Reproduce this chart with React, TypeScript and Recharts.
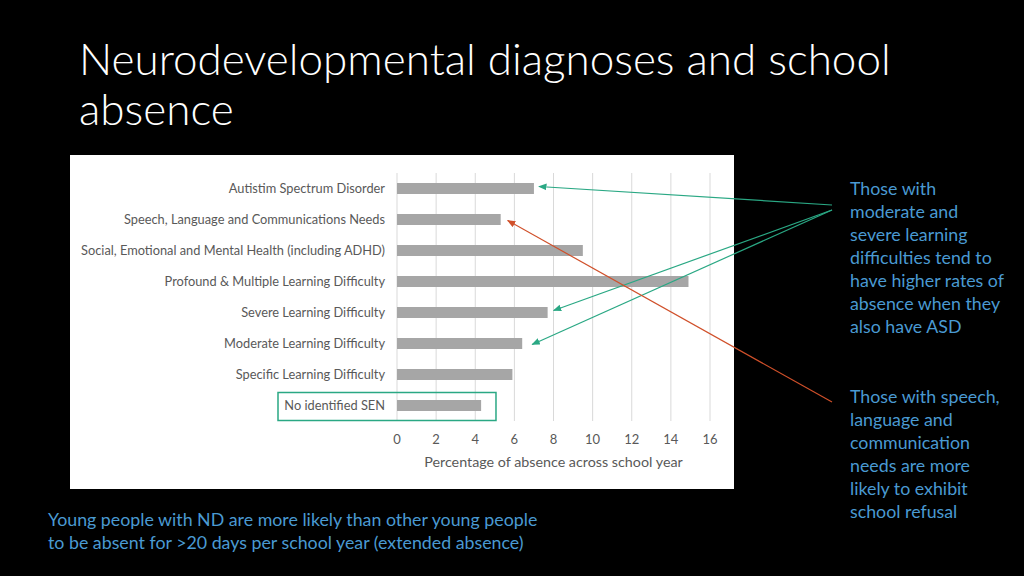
import React from 'react';
import { BarChart, Bar, XAxis, YAxis, CartesianGrid } from 'recharts';

const categories = [
  'Autistim Spectrum Disorder',
  'Speech, Language and Communications Needs',
  'Social, Emotional and Mental Health (including ADHD)',
  'Profound & Multiple Learning Difficulty',
  'Severe Learning Difficulty',
  'Moderate Learning Difficulty',
  'Specific Learning Difficulty',
  'No identified SEN',
];
const absence = [7.0, 5.3, 9.5, 14.9, 7.7, 6.4, 5.9, 4.3];
const xTicks = [0, 2, 4, 6, 8, 10, 12, 14, 16];

const data = categories.map((name, i) => ({ name, value: absence[i] }));

// chart box on the slide
const CHART_LEFT = 70;
const CHART_TOP = 155;
const CHART_W = 664;
const CHART_H = 334;
const Y_AXIS_W = 327;
const MARGIN = { top: 18, right: 24, bottom: 0, left: 0 };
const X_AXIS_H = 68;

const plotLeft = CHART_LEFT + MARGIN.left + Y_AXIS_W;
const plotW = CHART_W - MARGIN.left - MARGIN.right - Y_AXIS_W;
const plotTop = CHART_TOP + MARGIN.top;
const plotH = CHART_H - MARGIN.top - MARGIN.bottom - X_AXIS_H;
const band = plotH / categories.length;

const xPx = (v: number) => plotLeft + (v / xTicks[xTicks.length - 1]) * plotW;
const rowY = (i: number) => plotTop + band * (i + 0.5);

const GREEN = '#2aa884';
const RED = '#d0502a';
const BLUE = '#4a9ad2';
const FONT = 'Lato, "Open Sans", sans-serif';

// annotation arrows: start point on the slide, target bar index
const arrows = [
  { from: [832, 205], idx: 0, dx: 5, dy: -2, color: GREEN },
  { from: [832, 210], idx: 4, dx: 6, dy: -2, color: GREEN },
  { from: [832, 210], idx: 5, dx: 10, dy: 1, color: GREEN },
  { from: [832, 402], idx: 1, dx: 7, dy: 1, color: RED },
];

const note1 = [
  'Those with',
  'moderate and',
  'severe learning',
  'difficulties tend to',
  'have higher rates of',
  'absence when they',
  'also have ASD',
];
const note2 = [
  'Those with speech,',
  'language and',
  'communication',
  'needs are more',
  'likely to exhibit',
  'school refusal',
];
const footer = [
  'Young people with ND are more likely than other young people',
  'to be absent for >20 days per school year (extended absence)',
];

const Note = ({ lines, left, top }: { lines: string[]; left: number; top: number }) => (
  <div
    style={{
      position: 'absolute',
      left,
      top,
      color: BLUE,
      fontFamily: FONT,
      fontSize: 17.8,
      lineHeight: '23px',
      whiteSpace: 'nowrap',
    }}
  >
    {lines.map((l, i) => (
      <div key={i}>{l}</div>
    ))}
  </div>
);

// y tick without word wrapping
const CategoryTick = (props: any) => {
  const { x, y, payload } = props;
  return (
    <text
      x={x}
      y={y}
      dy={4.5}
      textAnchor="end"
      fill="#595959"
      fontSize={12.8}
      fontFamily={FONT}
    >
      {payload.value}
    </text>
  );
};

export default function App() {
  return (
    <div
      style={{
        position: 'absolute',
        left: 0,
        top: 0,
        width: 1024,
        height: 576,
        background: '#000',
        overflow: 'hidden',
      }}
    >
      <div
        style={{
          position: 'absolute',
          left: 79,
          top: 33,
          color: '#fff',
          fontFamily: FONT,
          fontWeight: 300,
          fontSize: 44,
          lineHeight: '50px',
          whiteSpace: 'nowrap',
        }}
      >
        <div>Neurodevelopmental diagnoses and school</div>
        <div>absence</div>
      </div>

      <div
        style={{
          position: 'absolute',
          left: CHART_LEFT,
          top: CHART_TOP,
          width: CHART_W,
          height: CHART_H,
          background: '#fff',
        }}
      >
        <BarChart
          width={CHART_W}
          height={CHART_H}
          data={data}
          layout="vertical"
          margin={MARGIN}
          barCategoryGap={20}
        >
          <CartesianGrid horizontal={false} stroke="#d9d9d9" />
          <XAxis
            type="number"
            domain={[0, 16]}
            ticks={xTicks}
            axisLine={false}
            tickLine={false}
            height={X_AXIS_H}
            tickMargin={8}
            tick={{ fill: '#595959', fontSize: 13, fontFamily: FONT }}
            label={{
              value: 'Percentage of absence across school year',
              position: 'insideBottom',
              offset: 22,
              fill: '#595959',
              fontSize: 14.3,
              fontFamily: FONT,
            }}
          />
          <YAxis
            type="category"
            dataKey="name"
            width={Y_AXIS_W}
            axisLine={false}
            tickLine={false}
            tickMargin={6}
            interval={0}
            tick={<CategoryTick />}
          />
          <Bar dataKey="value" fill="#a6a6a6" barSize={11} isAnimationActive={false} />
        </BarChart>
      </div>

      <svg
        width={1024}
        height={576}
        style={{ position: 'absolute', left: 0, top: 0, pointerEvents: 'none' }}
      >
        <defs>
          {[GREEN, RED].map((c) => (
            <marker
              key={c}
              id={'arr' + c.slice(1)}
              viewBox="0 0 10 10"
              refX="9"
              refY="5"
              markerWidth="7"
              markerHeight="7"
              orient="auto"
            >
              <path d="M0,1 L10,5 L0,9 z" fill={c} />
            </marker>
          ))}
        </defs>
        <rect
          x={278}
          y={rowY(7) - 13}
          width={xPx(5.06) - 278}
          height={28}
          fill="none"
          stroke={GREEN}
          strokeWidth={1.5}
        />
        {arrows.map((a, i) => (
          <line
            key={i}
            x1={a.from[0]}
            y1={a.from[1]}
            x2={xPx(absence[a.idx]) + a.dx}
            y2={rowY(a.idx) + a.dy}
            stroke={a.color}
            strokeWidth={1.2}
            markerEnd={`url(#arr${a.color.slice(1)})`}
          />
        ))}
      </svg>

      <Note lines={note1} left={850} top={177} />
      <Note lines={note2} left={850} top={385} />
      <Note lines={footer} left={48} top={508} />
    </div>
  );
}
